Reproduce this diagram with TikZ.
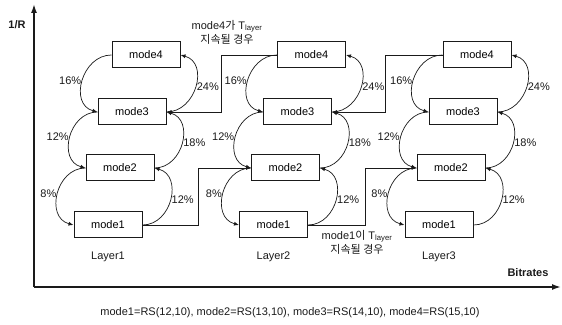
\documentclass[tikz,border=0pt]{standalone}
\usepackage{fontspec}
\setmainfont{Liberation Sans}
\newfontfamily\kr{Noto Sans CJK KR}
\usepackage{xcolor}
\usetikzlibrary{arrows.meta}
\definecolor{ink}{HTML}{1A1A1A}
\newcommand{\Tlayer}{T\textsubscript{layer}}
\tikzset{
  modebox/.style={draw=ink,fill=white,line width=1pt,
                  minimum width=68pt,minimum height=26pt,
                  inner sep=2pt,font=\fontsize{11}{13}\selectfont},
  pct/.style={font=\fontsize{11}{13}\selectfont,inner sep=1pt,text=ink},
  note/.style={align=center,font=\fontsize{11}{14}\selectfont,inner sep=1pt,text=ink},
  trans/.style={-{Latex[length=5pt,width=4pt]},line width=0.7pt,color=ink},
  axisarr/.style={-{Latex[length=9pt,width=6pt]},line width=1.6pt,color=ink}
}

\begin{document}
\begin{tikzpicture}[x=1pt,y=1pt]
  \useasboundingbox (0,0) rectangle (562,324);

  % axes
  \coordinate (origin) at (34,37);
  \coordinate (ytip) at (34,320);
  \coordinate (xtip) at (561,37);
  \draw[axisarr] (origin) -- (ytip);
  \draw[axisarr] (origin) -- (xtip);
  \node[pct,font=\fontsize{11}{13}\selectfont\bfseries] (ylab) at (17,299) {1/R};
  \node[pct,font=\fontsize{11}{13}\selectfont\bfseries] (xlab) at (528,51) {Bitrates};

  % one column of modes per layer
  \foreach \l/\dx in {1/0,2/165.5,3/331} {
    \node[modebox] (m4-\l) at (146+\dx,269) {mode4};
    \node[modebox] (m3-\l) at (132+\dx,212) {mode3};
    \node[modebox] (m2-\l) at (120+\dx,156) {mode2};
    \node[modebox] (m1-\l) at (108+\dx,99) {mode1};
    \node[pct] (lay-\l) at (108+\dx,67) {Layer\l};

    % down on the left, up on the right
    \draw[trans] (m4-\l.west) to[out=180,in=165,looseness=1.3] node[pct,left] {16\%} (m3-\l.west);
    \draw[trans] (m3-\l.west) to[out=180,in=165,looseness=1.3] node[pct,left] {12\%} (m2-\l.west);
    \draw[trans] (m2-\l.west) to[out=180,in=165,looseness=1.3] node[pct,left] {8\%} (m1-\l.west);
    \draw[trans] (m3-\l.east) to[out=0,in=-15,looseness=1.3] node[pct,right] {24\%} (m4-\l.east);
    \draw[trans] (m2-\l.east) to[out=0,in=-15,looseness=1.3] node[pct,right] {18\%} (m3-\l.east);
    \draw[trans] (m1-\l.east) to[out=0,in=-15,looseness=1.3] node[pct,right] {12\%} (m2-\l.east);
  }

  % layer changes
  \draw[trans] (m1-1.east) -- ++(56,0) |- (m2-2.west);
  \draw[trans] (m1-2.east) -- ++(57,0) |- (m2-3.west);
  \draw[trans] (m4-2.west) -- ++(-56,0) |- (m3-1.east);
  \draw[trans] (m4-3.west) -- ++(-57,0) |- (m3-2.east);

  \node[note] (keep4) at (227,292) {mode4{\kr 가} \Tlayer\\{\kr 지속될 경우}};
  \node[note] (keep1) at (357,82) {mode1{\kr 이} \Tlayer\\{\kr 지속될 경우}};

  \node[pct] (codes) at (290,11) {mode1=RS(12,10), mode2=RS(13,10), mode3=RS(14,10), mode4=RS(15,10)};
\end{tikzpicture}
\end{document}
